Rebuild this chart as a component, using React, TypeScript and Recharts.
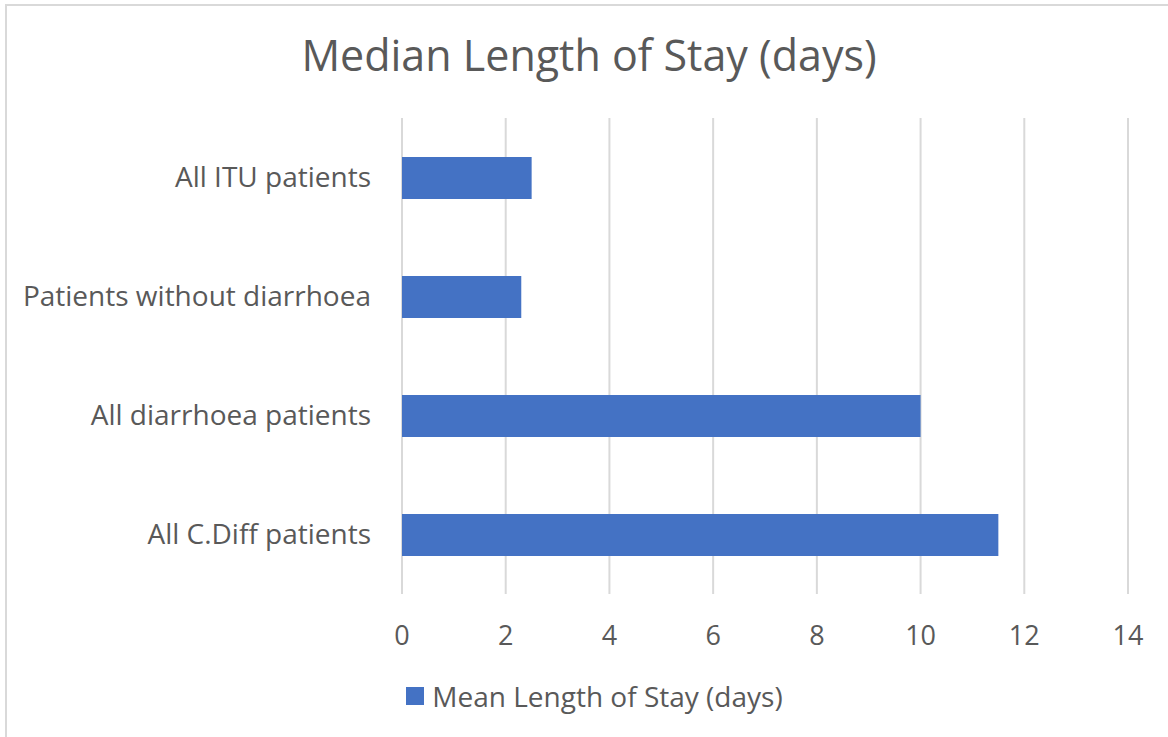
import { BarChart, Bar, XAxis, YAxis, CartesianGrid } from 'recharts'

// values, top bar first
const categories = ['All ITU patients', 'Patients without diarrhoea', 'All diarrhoea patients', 'All C.Diff patients']
const stayDays = [2.5, 2.3, 10, 11.5]
const xTicks = [0, 2, 4, 6, 8, 10, 12, 14]
const seriesName = 'Mean Length of Stay (days)'
const title = 'Median Length of Stay (days)'

const data = categories.map((name, i) => ({ name, value: stayDays[i] }))

const TEXT = '#595959'
const GRID = '#d9d9d9'
const BAR = '#4472C4'

export default function App() {
  return (
    <div
      style={{
        position: 'relative', width: 1168, height: 737, overflow: 'hidden',
        background: '#fff', fontFamily: '"Open Sans", sans-serif',
      }}
    >
      <style>{'body{margin:0}'}</style>
      {/* chart area border, runs off the right and bottom edges */}
      <div style={{ position: 'absolute', left: 5, top: 4, width: 1300, height: 900, border: `2px solid ${GRID}` }} />

      <div
        style={{
          position: 'absolute', top: 25, left: 0, width: 1178, textAlign: 'center',
          fontSize: 43, color: TEXT, lineHeight: '60px',
        }}
      >
        {title}
      </div>

      <div style={{ position: 'absolute', left: 0, top: 0 }}>
        <BarChart
          width={1168}
          height={737}
          data={data}
          layout="vertical"
          margin={{ top: 118, right: 40, bottom: 83, left: 0 }}
        >
          <CartesianGrid horizontal={false} stroke={GRID} strokeWidth={2} />
          <XAxis
            type="number"
            domain={[0, 14]}
            ticks={xTicks}
            axisLine={false}
            tickLine={false}
            tickSize={0}
            tickMargin={32}
            height={60}
            tick={{ fill: TEXT, fontSize: 27 }}
          />
          <YAxis
            type="category"
            dataKey="name"
            width={402}
            axisLine={false}
            tickLine={false}
            tickSize={0}
            tickMargin={31}
            tick={{ fill: TEXT, fontSize: 28 }}
          />
          <Bar dataKey="value" name={seriesName} fill={BAR} barSize={42} isAnimationActive={false} />
        </BarChart>
      </div>

      <div
        style={{
          position: 'absolute', top: 676, left: 0, width: 1189,
          display: 'flex', justifyContent: 'center', alignItems: 'center',
          fontSize: 28, color: TEXT, lineHeight: '40px',
        }}
      >
        <span style={{ width: 18, height: 18, background: BAR, marginRight: 8, display: 'inline-block' }} />
        <span>{seriesName}</span>
      </div>
    </div>
  )
}
